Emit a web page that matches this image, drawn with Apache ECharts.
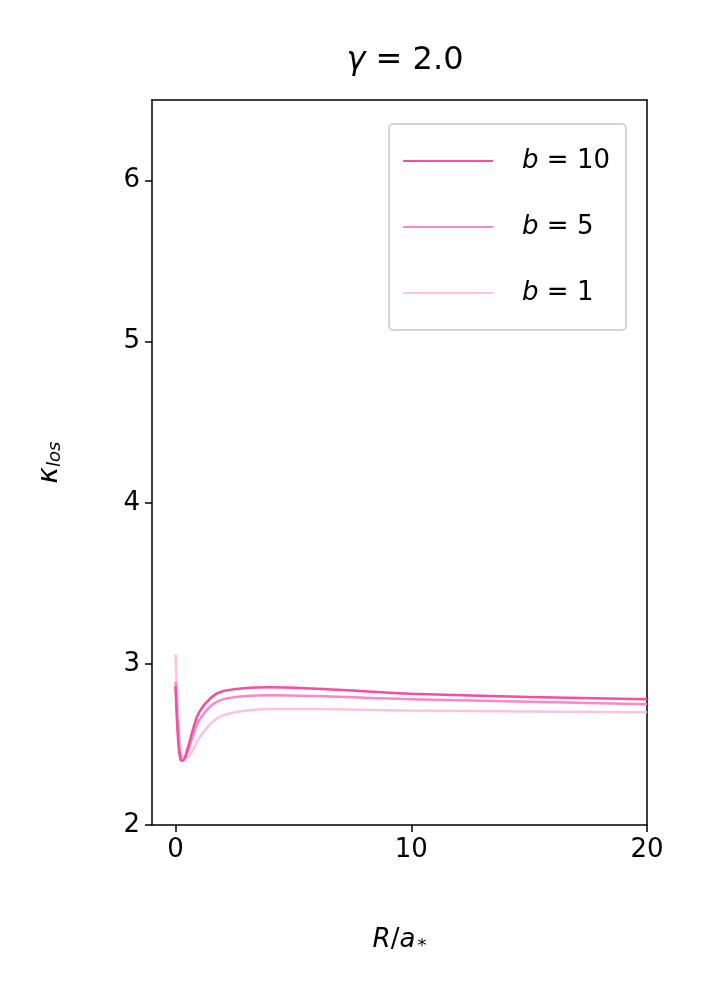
<!DOCTYPE html>
<html><head><meta charset="utf-8">
<script src="https://cdn.jsdelivr.net/npm/echarts@6/dist/echarts.min.js"></script>
<style>html,body{margin:0;padding:0;background:#fff}#c{width:708px;height:992px}</style>
</head><body><div id="c"></div>
<script>
const xs = [0,0.1,0.2,0.3,0.5,0.75,1,1.5,2,3,4,6,8,10,15,20];
const b10 = [2.86,2.55,2.41,2.40,2.47,2.60,2.70,2.79,2.83,2.85,2.855,2.845,2.83,2.815,2.795,2.78];
const b5  = [2.89,2.58,2.43,2.40,2.45,2.56,2.65,2.74,2.78,2.80,2.805,2.80,2.79,2.78,2.765,2.75];
const b1  = [3.06,2.70,2.48,2.42,2.42,2.47,2.54,2.63,2.68,2.71,2.72,2.72,2.715,2.71,2.705,2.70];
const xTicks = [0,10,20];
const yTicks = [2,3,4,5,6];
const names = ['b = 10','b = 5','b = 1'];
const colors = ['#fb4aa3','#fd86c4','#fcc3e0'];
const sets = [b10,b5,b1];
const chart = echarts.init(document.getElementById('c'));
const F = 'DejaVu Sans';
const line = {onZero:false,lineStyle:{color:'#000',width:1.5}};
chart.setOption({
  animation:false,
  title:{text:'{g|γ} = 2.0',left:400,top:40,textAlign:'center',
    textStyle:{fontFamily:F,fontSize:32,fontWeight:'normal',color:'#000',rich:{g:{fontFamily:F,fontSize:32,fontStyle:'italic'}}}},
  grid:{left:152,top:100,width:495,height:725},
  legend:{right:82,top:124,orient:'vertical',itemWidth:90,itemHeight:2,itemGap:40,padding:[24,16,24,14],
    borderColor:'#d4d4d4',borderWidth:2,borderRadius:4,backgroundColor:'#fff',
    data:names.map(n=>({name:n,icon:'rect'})),
    formatter:n=>'{i|b} = '+n.split('= ')[1],
    textStyle:{fontFamily:F,fontSize:26,color:'#000',padding:[0,0,0,24],rich:{i:{fontFamily:F,fontSize:26,fontStyle:'italic'}}}},
  xAxis:[{type:'value',min:-1,max:20,
    axisLine:line,axisTick:{length:7,lineStyle:{color:'#000',width:1.5},customValues:xTicks},
    axisLabel:{fontFamily:F,fontSize:26,color:'#000',margin:12,customValues:xTicks},
    splitLine:{show:false},
    name:'{i|R}/{i|a}{s|*}',nameLocation:'middle',nameGap:100,
    nameTextStyle:{fontFamily:F,fontSize:26,color:'#000',rich:{i:{fontFamily:F,fontSize:26,fontStyle:'italic'},s:{fontFamily:F,fontSize:18,verticalAlign:'bottom',padding:[12,0,0,2]}}}},
    {type:'value',position:'top',min:-1,max:20,axisLine:line,axisTick:{show:false},axisLabel:{show:false},splitLine:{show:false}}],
  yAxis:[{type:'value',min:2,max:6.5,
    axisLine:line,axisTick:{length:7,lineStyle:{color:'#000',width:1.5},customValues:yTicks},
    axisLabel:{fontFamily:F,fontSize:26,color:'#000',margin:12,customValues:yTicks},
    splitLine:{show:false},
    name:'{i|κ}{s|los}',nameLocation:'middle',nameGap:88,
    nameTextStyle:{fontFamily:F,fontSize:26,color:'#000',rich:{i:{fontFamily:F,fontSize:28,fontStyle:'italic'},s:{fontFamily:F,fontSize:18,fontStyle:'italic',padding:[10,0,0,0]}}}},
    {type:'value',position:'right',min:2,max:6.5,axisLine:line,axisTick:{show:false},axisLabel:{show:false},splitLine:{show:false}}],
  series:sets.map((s,i)=>({name:names[i],type:'line',smooth:0.4,showSymbol:false,z:10-i,
    data:xs.map((x,j)=>[x,s[j]]),lineStyle:{color:colors[i],width:2.5},itemStyle:{color:colors[i]}}))
});
</script></body></html>
